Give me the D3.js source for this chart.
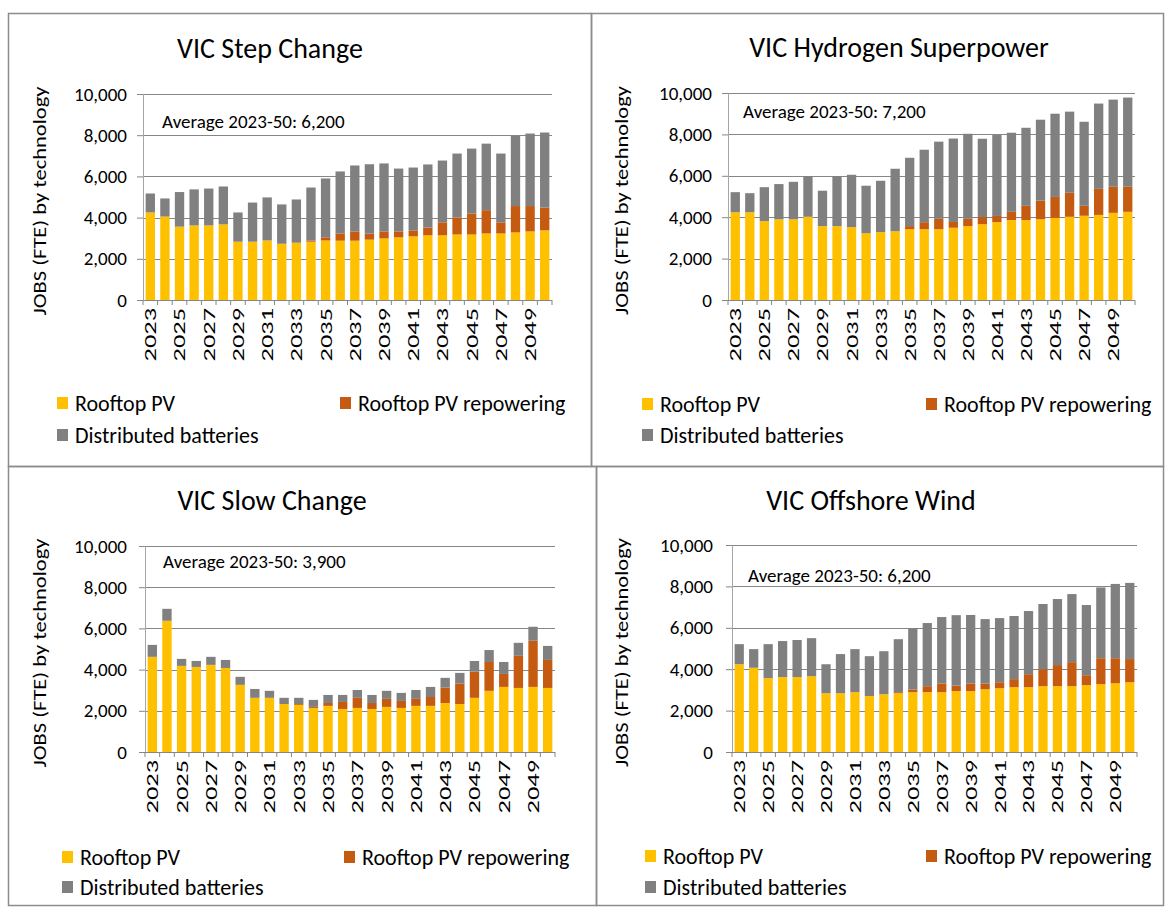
<!DOCTYPE html>
<html>
<head>
<meta charset="utf-8">
<script src="https://cdn.jsdelivr.net/npm/d3@7"></script>
<style>
  body { margin: 0; background: #fff; }
  svg text { font-family: Calibri, Carlito, Lato, sans-serif; fill: #000; }
</style>
</head>
<body>
<svg id="chart" width="1166" height="908"></svg>
<script>
// years on the x axis
var years = d3.range(2023, 2051).map(String);
var seriesNames = ["Rooftop PV", "Rooftop PV repowering", "Distributed batteries"];
var seriesColors = ["#FFC000", "#C55A11", "#808080"];
var yTicks = [0, 2000, 4000, 6000, 8000, 10000];

// VIC Step Change
var stepPV      = [4250,4050,3560,3620,3620,3670,2830,2830,2890,2730,2780,2830,2890,2880,2880,2930,2990,3040,3090,3140,3140,3180,3180,3230,3230,3280,3330,3380];
var stepRepower = [0,0,0,0,0,0,0,0,0,0,0,60,150,350,450,290,340,290,290,380,630,830,1020,1130,540,1280,1230,1110];
var stepBatt    = [920,880,1680,1750,1790,1840,1420,1900,2090,1910,2100,2570,2860,3010,3200,3370,3300,3050,3050,3060,3000,3100,3150,3230,3340,3410,3520,3640];

// VIC Hydrogen Superpower
var h2PV      = [4240,4240,3810,3900,3900,4020,3570,3570,3520,3230,3280,3320,3420,3420,3420,3490,3570,3660,3760,3860,3860,3900,3970,4020,4070,4110,4210,4260];
var h2Repower = [0,0,0,0,0,0,0,0,0,0,0,0,150,340,500,280,350,350,300,400,690,900,1010,1160,480,1260,1260,1210];
var h2Batt    = [970,920,1640,1700,1810,1970,1710,2420,2530,2290,2480,3020,3300,3500,3730,4030,4110,3780,3910,3820,3770,3910,4020,3920,4060,4120,4210,4310];

// VIC Slow Change
var slowPV      = [4620,6370,4180,4130,4230,4080,3260,2630,2630,2330,2290,2140,2240,2090,2140,2090,2190,2140,2240,2240,2380,2330,2630,2970,3160,3110,3160,3110];
var slowRepower = [0,0,0,0,0,0,0,0,0,0,40,50,140,340,490,290,390,340,340,430,750,990,1270,1400,630,1560,2240,1360];
var slowBatt    = [580,580,340,290,390,390,390,430,340,300,300,340,390,340,380,390,390,390,430,490,470,520,520,580,580,630,680,680];

// VIC Offshore Wind
var windPV      = [4240,4070,3570,3620,3620,3660,2840,2840,2890,2700,2790,2840,2890,2890,2890,2940,2940,3030,3080,3130,3130,3180,3180,3180,3230,3280,3320,3370];
var windRepower = [0,0,0,0,0,0,0,0,0,0,0,50,130,290,420,270,370,280,290,390,630,820,1020,1160,480,1250,1210,1120];
var windBatt    = [970,900,1640,1740,1790,1840,1400,1890,2080,1930,2080,2560,2950,3050,3210,3400,3310,3110,3100,3050,3050,3150,3190,3290,3390,3420,3590,3680];

var svg = d3.select("#chart");

var panels = [
    {title: "VIC Step Change", avg: "Average 2023-50: 6,200", pv: stepPV, rep: stepRepower, batt: stepBatt,
     box: [8, 13, 583, 453], x0: 143, x1: 552, y0: 300, y1: 94, tickX: 127, labX: 40,
     titleX: 270, titleY: 58, avgX: 162, avgY: 128, legX: 57, legX2: 340, legY: 403, legY2: 435},
    {title: "VIC Hydrogen Superpower", avg: "Average 2023-50: 7,200", pv: h2PV, rep: h2Repower, batt: h2Batt,
     box: [591, 13, 572, 453], x0: 728, x1: 1135, y0: 300, y1: 93, tickX: 712, labX: 622,
     titleX: 899, titleY: 57, avgX: 743, avgY: 118, legX: 642, legX2: 926, legY: 404, legY2: 435},
    {title: "VIC Slow Change", avg: "Average 2023-50: 3,900", pv: slowPV, rep: slowRepower, batt: slowBatt,
     box: [8, 466, 588, 439], x0: 145, x1: 555, y0: 752, y1: 546, tickX: 127, labX: 40,
     titleX: 272, titleY: 510, avgX: 163, avgY: 568, legX: 62, legX2: 344, legY: 857, legY2: 887},
    {title: "VIC Offshore Wind", avg: "Average 2023-50: 6,200", pv: windPV, rep: windRepower, batt: windBatt,
     box: [596, 466, 567, 439], x0: 732, x1: 1137, y0: 752, y1: 545, tickX: 713, labX: 622,
     titleX: 871, titleY: 510, avgX: 748, avgY: 582, legX: 645, legX2: 926, legY: 856, legY2: 887}
];

panels.forEach(drawPanel);

function drawPanel(p) {
    var g = svg.append("g");

    g.append("rect")
        .attr("x", p.box[0] + 0.5).attr("y", p.box[1] + 0.5)
        .attr("width", p.box[2]).attr("height", p.box[3])
        .attr("fill", "none").attr("stroke", "#8c8c8c").attr("stroke-width", 1.5);

    var x = d3.scaleBand().domain(years).range([p.x0, p.x1]).paddingInner(0.36).paddingOuter(0.18);
    var y = d3.scaleLinear().domain([0, 10000]).range([p.y0, p.y1]);

    // gridlines
    g.selectAll(".grid").data(yTicks.slice(1)).enter().append("line")
        .attr("x1", p.x0).attr("x2", p.x1)
        .attr("y1", function(d) { return Math.round(y(d)) + 0.5; })
        .attr("y2", function(d) { return Math.round(y(d)) + 0.5; })
        .attr("stroke", "#868686").attr("stroke-width", 1);

    // stacked bars
    var rows = years.map(function(yr, i) {
        return {year: yr, pv: p.pv[i], rep: p.rep[i], batt: p.batt[i]};
    });
    var stack = d3.stack().keys(["pv", "rep", "batt"])(rows);
    g.selectAll(".layer").data(stack).enter().append("g")
        .attr("fill", function(d, i) { return seriesColors[i]; })
        .selectAll("rect").data(function(d) { return d; }).enter().append("rect")
        .attr("x", function(d) { return x(d.data.year); })
        .attr("width", x.bandwidth())
        .attr("y", function(d) { return y(d[1]); })
        .attr("height", function(d) { return y(d[0]) - y(d[1]); });

    // y axis
    var yAxis = g.append("g")
        .attr("transform", "translate(" + p.x0 + ",0)")
        .call(d3.axisLeft(y).tickValues(yTicks).tickFormat(d3.format(",d")).tickSize(6).tickPadding(10));
    yAxis.select(".domain").attr("stroke", "#a6a6a6");
    yAxis.selectAll(".tick line").attr("stroke", "#868686");
    yAxis.selectAll(".tick text").attr("font-size", 19).attr("x", p.tickX - p.x0);

    // x axis: ticks at band boundaries, labels every other year
    var step = x.step();
    var bounds = d3.range(years.length + 1).map(function(i) { return x(years[0]) - x.paddingOuter() * step + i * step; });
    var xa = g.append("g");
    xa.append("line")
        .attr("x1", p.x0).attr("x2", p.x1)
        .attr("y1", p.y0 + 0.5).attr("y2", p.y0 + 0.5)
        .attr("stroke", "#868686");
    xa.selectAll(".xt").data(bounds).enter().append("line")
        .attr("x1", function(d) { return d; }).attr("x2", function(d) { return d; })
        .attr("y1", p.y0).attr("y2", p.y0 + 5)
        .attr("stroke", "#868686");
    xa.selectAll(".xl").data(years.filter(function(d, i) { return i % 2 === 0; })).enter().append("text")
        .attr("transform", function(d) {
            return "translate(" + (x(d) + x.bandwidth() / 2) + "," + (p.y0 + 8) + ") rotate(-90) scale(1.55,1)";
        })
        .attr("text-anchor", "end")
        .attr("dy", "0.35em")
        .attr("font-size", 17)
        .text(function(d) { return d; });

    // y axis label
    g.append("text")
        .attr("transform", "translate(" + p.labX + "," + ((p.y0 + p.y1) / 2 + 4) + ") rotate(-90) scale(1.25,1)")
        .attr("text-anchor", "middle")
        .attr("dy", "0.35em")
        .attr("font-size", 18)
        .text("JOBS (FTE) by technology");

    // title
    g.append("text")
        .attr("x", p.titleX).attr("y", p.titleY)
        .attr("text-anchor", "middle")
        .attr("font-size", 28)
        .text(p.title);

    // average note
    g.append("text")
        .attr("x", p.avgX).attr("y", p.avgY)
        .attr("font-size", 19)
        .text(p.avg);

    // legend
    var legPos = [[p.legX, p.legY], [p.legX2, p.legY], [p.legX, p.legY2]];
    seriesNames.forEach(function(name, i) {
        g.append("rect")
            .attr("x", legPos[i][0]).attr("y", legPos[i][1] - 6)
            .attr("width", 11).attr("height", 12)
            .attr("fill", seriesColors[i]);
        g.append("text")
            .attr("x", legPos[i][0] + 18).attr("y", legPos[i][1])
            .attr("dy", "0.35em")
            .attr("font-size", 22)
            .text(name);
    });
}
</script>
</body>
</html>
